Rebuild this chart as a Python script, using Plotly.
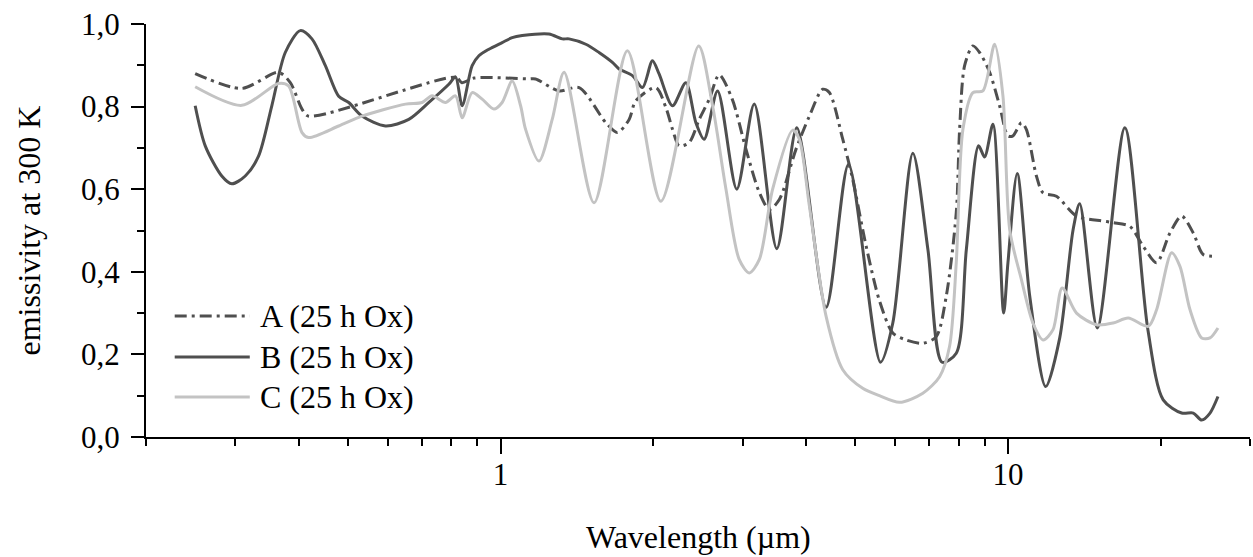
import plotly.graph_objects as go

# ---- data (wavelength in micrometres, emissivity) ----
a_wl = [0.25, 0.309, 0.365, 0.385, 0.406, 0.418, 0.816, 0.839, 0.886, 1.137, 1.172, 1.303, 1.428,
        1.612, 1.699, 1.792, 1.847, 2.023, 2.117, 2.182, 2.249, 2.353, 2.463, 2.578, 2.697, 2.861,
        3.045, 3.236, 3.385, 3.543, 3.822, 4.061, 4.313, 4.446, 4.725, 4.943, 5.254, 5.581, 5.93,
        6.302, 6.796, 7.223, 7.558, 7.909, 8.03, 8.214, 8.53, 8.793, 9.204, 9.629, 10.0, 10.23,
        10.63, 10.87, 11.38, 11.73, 12.46, 13.65, 15.4, 16.12, 17.39, 18.47, 19.63, 20.86, 22.0,
        23.19, 24.26, 25.82]
a_em = [0.880, 0.844, 0.883, 0.858, 0.794, 0.777, 0.871, 0.858, 0.869, 0.867, 0.867, 0.838, 0.846,
        0.761, 0.737, 0.769, 0.814, 0.846, 0.798, 0.745, 0.705, 0.713, 0.769, 0.818, 0.877, 0.818,
        0.697, 0.592, 0.551, 0.575, 0.697, 0.777, 0.842, 0.834, 0.721, 0.624, 0.462, 0.330, 0.252,
        0.235, 0.227, 0.243, 0.341, 0.543, 0.745, 0.899, 0.947, 0.931, 0.883, 0.802, 0.729, 0.729,
        0.761, 0.745, 0.632, 0.591, 0.583, 0.535, 0.523, 0.519, 0.510, 0.462, 0.422, 0.494, 0.535,
        0.494, 0.442, 0.438]

b_wl = [0.25, 0.2617, 0.2821, 0.2953, 0.3138, 0.3333, 0.354, 0.3763, 0.4029, 0.4247, 0.4514, 0.4795,
        0.5019, 0.533, 0.5929, 0.6592, 0.7221, 0.7906, 0.8149, 0.8399, 0.8788, 0.9061, 0.9482, 1.007,
        1.054, 1.103, 1.245, 1.323, 1.364, 1.472, 1.563, 1.661, 1.712, 1.819, 1.904, 1.992, 2.053,
        2.182, 2.318, 2.426, 2.519, 2.677, 2.921, 3.162, 3.503, 3.836, 4.381, 4.85, 5.607, 5.93,
        6.494, 6.954, 7.415, 7.909, 8.279, 8.753, 8.995, 9.342, 9.806, 10.0, 10.43, 11.04, 11.87,
        12.65, 13.44, 13.85, 15.0, 17.0, 18.87, 20.23, 22.0, 23.19, 24.09, 25.02, 25.94]
b_em = [0.802, 0.705, 0.632, 0.613, 0.632, 0.680, 0.802, 0.931, 0.984, 0.964, 0.899, 0.825,
        0.810, 0.777, 0.753, 0.769, 0.810, 0.854, 0.872, 0.802, 0.899, 0.923, 0.939, 0.955,
        0.967, 0.972, 0.976, 0.964, 0.964, 0.951, 0.931, 0.907, 0.891, 0.875, 0.846, 0.911, 0.879,
        0.802, 0.858, 0.761, 0.721, 0.838, 0.600, 0.806, 0.456, 0.749, 0.314, 0.660, 0.181, 0.276,
        0.687, 0.454, 0.181, 0.203, 0.454, 0.705, 0.678, 0.757, 0.300, 0.422, 0.638, 0.341, 0.122,
        0.240, 0.502, 0.565, 0.264, 0.749, 0.260, 0.090, 0.058, 0.058, 0.041, 0.058, 0.098]

c_wl = [0.25, 0.309, 0.365, 0.382, 0.406, 0.418, 0.4795, 0.533, 0.6494, 0.7003, 0.7328, 0.7787,
        0.8149, 0.8399, 0.8788, 0.9198, 0.97, 1.007, 1.054, 1.095, 1.12, 1.19, 1.264, 1.334, 1.528,
        1.778, 2.07, 2.457, 2.617, 2.781, 2.953, 3.091, 3.236, 3.437, 3.764, 3.88, 4.061, 4.381,
        4.725, 5.173, 5.581, 6.113, 6.796, 7.332, 7.671, 7.909, 8.152, 8.53, 8.925, 9.413, 9.775,
        10.08, 10.63, 11.2, 11.73, 12.27, 12.79, 13.65, 14.94, 16.12, 17.26, 18.9, 19.63, 21.02,
        21.83, 22.85, 24.09, 25.02, 25.94]
c_em = [0.848, 0.803, 0.856, 0.850, 0.737, 0.725, 0.753, 0.777, 0.806, 0.810, 0.826, 0.810,
        0.826, 0.773, 0.834, 0.818, 0.794, 0.810, 0.862, 0.802, 0.745, 0.668, 0.769, 0.883, 0.567,
        0.935, 0.571, 0.947, 0.802, 0.600, 0.430, 0.397, 0.430, 0.600, 0.743, 0.721, 0.559, 0.292,
        0.163, 0.118, 0.100, 0.084, 0.106, 0.146, 0.219, 0.422, 0.745, 0.834, 0.838, 0.951, 0.826,
        0.502, 0.381, 0.276, 0.235, 0.260, 0.361, 0.300, 0.272, 0.276, 0.288, 0.268, 0.308, 0.446,
        0.413, 0.308, 0.240, 0.240, 0.264]

series_names = ["A (25 h Ox)", "B (25 h Ox)", "C (25 h Ox)"]
y_ticks = [0.0, 0.2, 0.4, 0.6, 0.8, 1.0]
y_ticklabels = ["0,0", "0,2", "0,4", "0,6", "0,8", "1,0"]
x_ticks = [1, 10]
x_ticklabels = ["1", "10"]
x_minor = [0.2, 0.3, 0.4, 0.5, 0.6, 0.7, 0.8, 0.9, 2, 3, 4, 5, 6, 7, 8, 9, 20, 30]

DARK = "#4f4f4f"
LIGHT = "#c3c3c3"
FONT = "Liberation Serif"
styles = [dict(color=DARK, width=3, dash="12px,5px,3px,5px"),
          dict(color=DARK, width=3, dash="solid"),
          dict(color=LIGHT, width=3, dash="solid")]

fig = go.Figure()
for wl, em, name, st in zip([a_wl, b_wl, c_wl], [a_em, b_em, c_em], series_names, styles):
    fig.add_trace(go.Scatter(x=wl, y=em, mode="lines", name=name,
                             line=dict(st, shape="spline", smoothing=0.8), showlegend=False))

# hand-drawn legend (long line samples as in the reference)
leg_y = [0.293, 0.194, 0.097]
for yy, name, st in zip(leg_y, series_names, styles):
    fig.add_shape(type="line", xref="paper", yref="paper", x0=0.026, x1=0.094, y0=yy, y1=yy,
                  line=st)
    fig.add_annotation(xref="paper", yref="paper", x=0.101, y=yy, text=name, showarrow=False,
                       xanchor="left", yanchor="middle", font=dict(family=FONT, size=32, color="black"))

fig.add_annotation(xref="paper", yref="paper", x=0.5, y=-0.241, text="Wavelength (µm)",
                   showarrow=False, xanchor="center", yanchor="middle",
                   font=dict(family=FONT, size=32, color="black"))
fig.add_annotation(xref="paper", yref="paper", x=-0.106, y=0.5, text="emissivity at 300 K",
                   showarrow=False, textangle=-90, xanchor="center", yanchor="middle",
                   font=dict(family=FONT, size=32, color="black"))

fig.update_xaxes(type="log", range=[-0.69897, 1.4771], showgrid=False, zeroline=False,
                 showline=True, linecolor="black", linewidth=2,
                 tickmode="array", tickvals=x_ticks, ticktext=x_ticklabels,
                 ticks="outside", ticklen=15, tickwidth=2, tickcolor="black",
                 ticklabelstandoff=-6,
                 tickfont=dict(family=FONT, size=31, color="black"),
                 minor=dict(tickvals=x_minor, ticks="outside", ticklen=7, tickwidth=2,
                            tickcolor="black", showgrid=False))
fig.update_yaxes(range=[0, 1.0], showgrid=False, zeroline=False,
                 showline=True, linecolor="black", linewidth=2,
                 tickmode="array", tickvals=y_ticks, ticktext=y_ticklabels,
                 ticks="outside", ticklen=13, tickwidth=2, tickcolor="black",
                 ticklabelstandoff=5,
                 tickfont=dict(family=FONT, size=31, color="black"),
                 minor=dict(dtick=0.1, ticks="outside", ticklen=7, tickwidth=2,
                            tickcolor="black", showgrid=False))
fig.update_layout(width=1253, height=557, margin=dict(l=146, r=3, t=24, b=120),
                  paper_bgcolor="white", plot_bgcolor="white", showlegend=False)
fig.write_html("out.html", post_script="document.body.style.margin='0';",
               config={"displayModeBar": False})
